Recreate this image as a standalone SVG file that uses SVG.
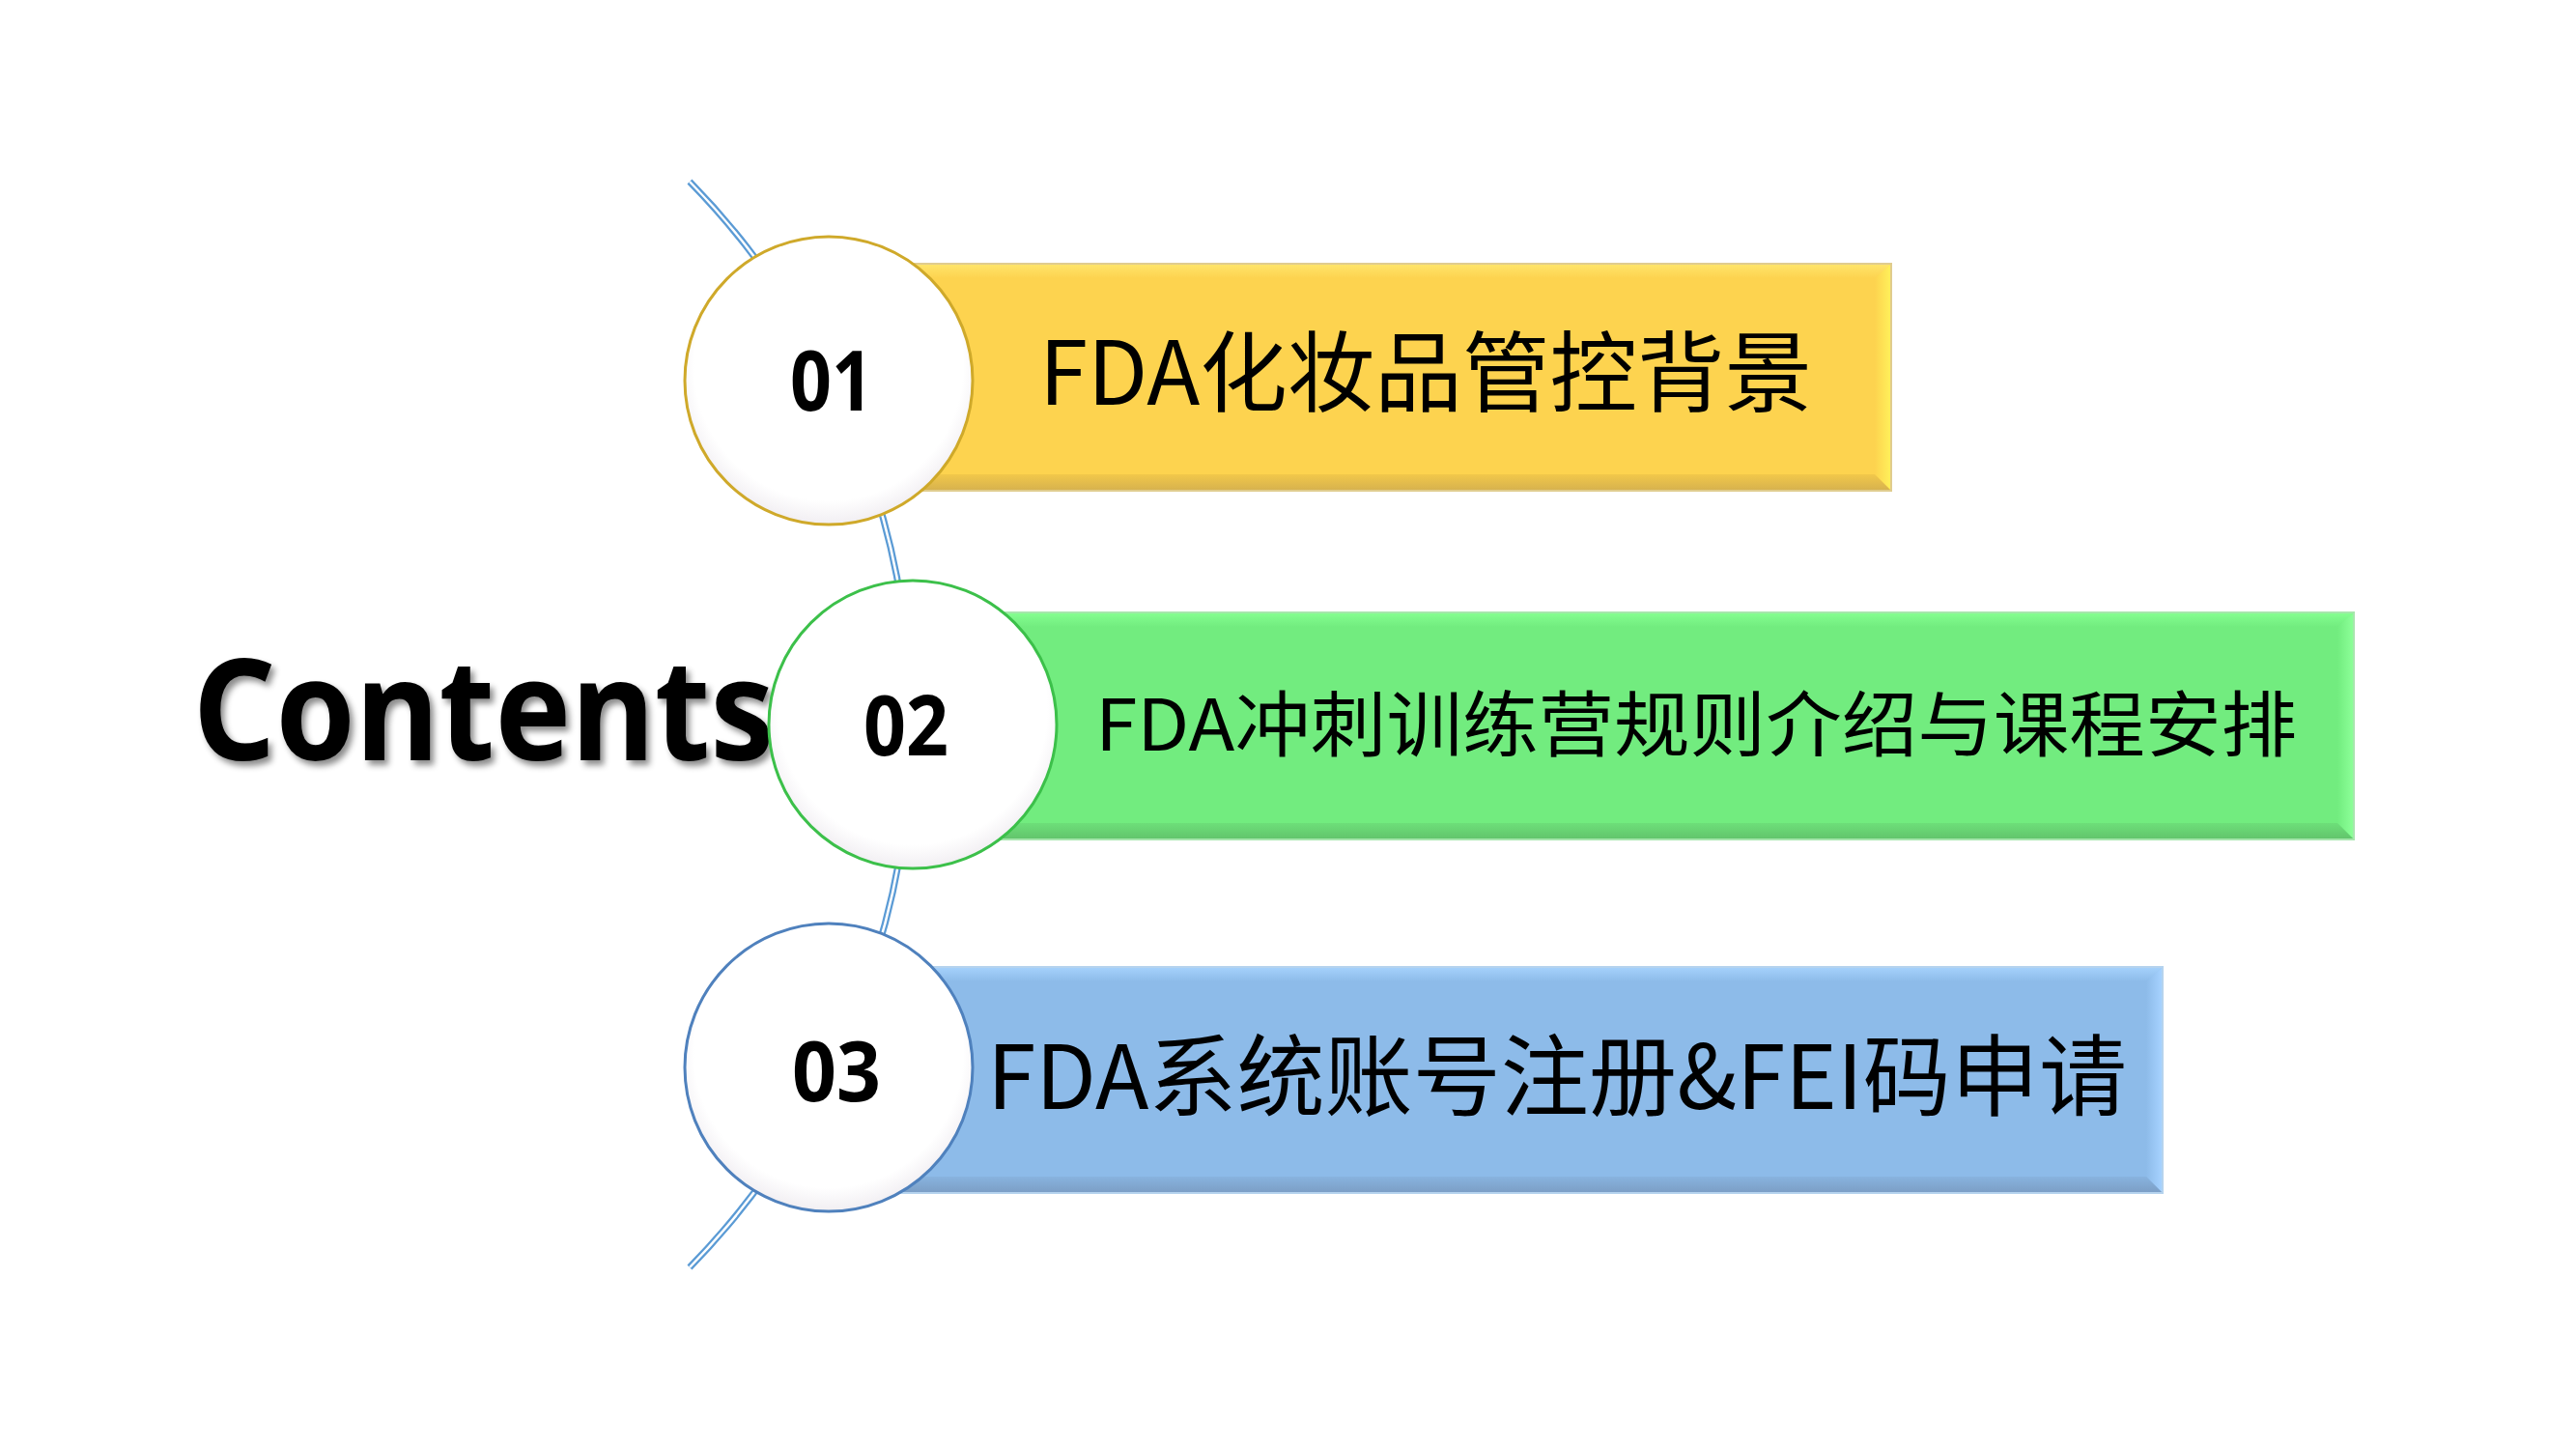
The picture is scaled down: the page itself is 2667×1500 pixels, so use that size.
<svg xmlns="http://www.w3.org/2000/svg" width="2667" height="1500" viewBox="0 0 2667 1500">
<defs>
<style>
.num{font-family:"Noto Sans","Open Sans","Liberation Sans",sans-serif;font-weight:bold;font-size:86px;fill:#000;text-anchor:middle}
.lbl{font-family:"Noto Sans CJK SC","Noto Sans",sans-serif;fill:#000}
.title{font-family:"Noto Sans","Open Sans","Liberation Sans",sans-serif;font-weight:bold;font-size:146px;fill:#000}
.disc{stroke-width:3}
</style>
<radialGradient id="discFill" cx="50%" cy="45%" r="55%">
<stop offset="0.85" stop-color="#ffffff"/>
<stop offset="1" stop-color="#f1eef2"/>
</radialGradient>
<filter id="shadow" x="-5%" y="-10%" width="115%" height="130%">
<feDropShadow dx="4" dy="5" stdDeviation="3" flood-color="#000" flood-opacity="0.45"/>
</filter>
<linearGradient id="yTop" x1="0" y1="0" x2="0" y2="1"><stop offset="0" stop-color="#ffe46a"/><stop offset="1" stop-color="#fdd34f"/></linearGradient>
<linearGradient id="yBot" x1="0" y1="0" x2="0" y2="1"><stop offset="0" stop-color="#f2c84a"/><stop offset="1" stop-color="#d7b24e"/></linearGradient>
<linearGradient id="yRight" x1="0" y1="0" x2="1" y2="0"><stop offset="0" stop-color="#fdd34f"/><stop offset="1" stop-color="#fff05a"/></linearGradient>
<linearGradient id="gTop" x1="0" y1="0" x2="0" y2="1"><stop offset="0" stop-color="#84fe90"/><stop offset="1" stop-color="#72ec7f"/></linearGradient>
<linearGradient id="gBot" x1="0" y1="0" x2="0" y2="1"><stop offset="0" stop-color="#6ddf79"/><stop offset="1" stop-color="#62c56c"/></linearGradient>
<linearGradient id="gRight" x1="0" y1="0" x2="1" y2="0"><stop offset="0" stop-color="#72ec7f"/><stop offset="1" stop-color="#8cff98"/></linearGradient>
<linearGradient id="bTop" x1="0" y1="0" x2="0" y2="1"><stop offset="0" stop-color="#a4d0fb"/><stop offset="1" stop-color="#8dbbe9"/></linearGradient>
<linearGradient id="bBot" x1="0" y1="0" x2="0" y2="1"><stop offset="0" stop-color="#88b3df"/><stop offset="1" stop-color="#7c9fc6"/></linearGradient>
<linearGradient id="bRight" x1="0" y1="0" x2="1" y2="0"><stop offset="0" stop-color="#8dbbe9"/><stop offset="1" stop-color="#a6d2ff"/></linearGradient>
</defs>
<rect width="2667" height="1500" fill="#ffffff"/>

<g id="connectors">
<path d="M 714 188 A 804 804 0 0 1 714 1312" fill="none" stroke="#5b9bd5" stroke-width="7"/>
<path d="M 714 188 A 804 804 0 0 1 714 1312" fill="none" stroke="#ffffff" stroke-width="2.5"/>
</g>

<g id="title">
<text class="title" x="200" y="787" textLength="602" lengthAdjust="spacingAndGlyphs" filter="url(#shadow)">Contents</text>
</g>

<g id="item1">
<rect x="858" y="273" width="1100" height="235" fill="#fdd34f" stroke="#e0cc8e" stroke-width="2"/>
<polygon points="858,274 1957,274 1943,288 858,288" fill="url(#yTop)"/>
<polygon points="1957,274 1957,507 1941,491 1941,288" fill="url(#yRight)"/>
<polygon points="858,507 1957,507 1941,491 858,491" fill="url(#yBot)"/>
<text class="lbl" x="1076" y="419" font-size="91" textLength="800" lengthAdjust="spacingAndGlyphs">FDA化妆品管控背景</text>
<circle class="disc" cx="858" cy="394" r="149" fill="url(#discFill)" stroke="#cfa92a"/>
<text class="num" x="861" y="425" textLength="86" lengthAdjust="spacingAndGlyphs">01</text>
</g>

<g id="item2">
<rect x="945" y="634" width="1492" height="235" fill="#72ec7f" stroke="#a6e6ac" stroke-width="2"/>
<polygon points="945,635 2436,635 2422,649 945,649" fill="url(#gTop)"/>
<polygon points="2436,635 2436,868 2420,852 2420,649" fill="url(#gRight)"/>
<polygon points="945,868 2436,868 2420,852 945,852" fill="url(#gBot)"/>
<text class="lbl" x="1134" y="777" font-size="74" textLength="1244" lengthAdjust="spacingAndGlyphs">FDA冲刺训练营规则介绍与课程安排</text>
<circle class="disc" cx="945" cy="750" r="149" fill="url(#discFill)" stroke="#3cc04a"/>
<text class="num" x="938" y="782" textLength="88" lengthAdjust="spacingAndGlyphs">02</text>
</g>

<g id="item3">
<rect x="858" y="1001" width="1381" height="234" fill="#8dbbe9" stroke="#b5d3ee" stroke-width="2"/>
<polygon points="858,1002 2238,1002 2224,1016 858,1016" fill="url(#bTop)"/>
<polygon points="2238,1002 2238,1234 2222,1218 2222,1016" fill="url(#bRight)"/>
<polygon points="858,1234 2238,1234 2222,1218 858,1218" fill="url(#bBot)"/>
<text class="lbl" x="1022" y="1148" font-size="92" textLength="1180" lengthAdjust="spacingAndGlyphs">FDA系统账号注册&amp;FEI码申请</text>
<circle class="disc" cx="858" cy="1105" r="149" fill="url(#discFill)" stroke="#4f81bd"/>
<text class="num" x="866" y="1140" textLength="92" lengthAdjust="spacingAndGlyphs">03</text>
</g>
</svg>
